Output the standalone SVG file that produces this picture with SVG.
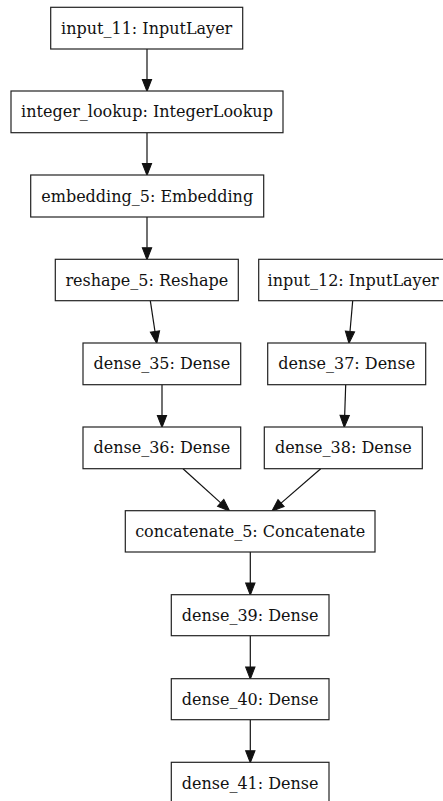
<svg xmlns="http://www.w3.org/2000/svg" width="443" height="801" viewBox="0 0 443 801">
<style>
.box{fill:#fff;stroke:#222;stroke-width:1.2}
.lbl{font-family:"DejaVu Serif",serif;font-size:16px;fill:#111;text-anchor:middle}
.edge{fill:none;stroke:#111;stroke-width:1.2}
</style>
<defs>
<marker id="arr" markerUnits="userSpaceOnUse" markerWidth="12" markerHeight="10" viewBox="0 0 11.6 9" refX="0" refY="4.5" orient="auto" overflow="visible">
<path d="M0,0 L11.6,4.5 L0,9 z" fill="#111" stroke="#111" stroke-width="1"/>
</marker>
</defs>
<rect width="443" height="801" fill="#fff"/>
<g id="connectors">
<path class="edge" marker-end="url(#arr)" d="M147,49 L147,79.4"/>
<path class="edge" marker-end="url(#arr)" d="M147,132.7 L147,163.4"/>
<path class="edge" marker-end="url(#arr)" d="M147,217 L147,247.7"/>
<path class="edge" marker-end="url(#arr)" d="M150.3,300.7 L154.97,331.53"/>
<path class="edge" marker-end="url(#arr)" d="M352.7,300.7 L350.01,331.44"/>
<path class="edge" marker-end="url(#arr)" d="M162,384.7 L162,415.4"/>
<path class="edge" marker-end="url(#arr)" d="M345.7,384.7 L344.68,415.41"/>
<path class="edge" marker-end="url(#arr)" d="M183,468.7 L220.71,502.91"/>
<path class="edge" marker-end="url(#arr)" d="M320.7,468.7 L281.06,503.1"/>
<path class="edge" marker-end="url(#arr)" d="M250.3,552 L250.3,583.1"/>
<path class="edge" marker-end="url(#arr)" d="M250.3,635.7 L250.3,667.1"/>
<path class="edge" marker-end="url(#arr)" d="M250.3,719.7 L250.3,750.7"/>
</g>
<g id="input_11"><rect class="box" x="50.7" y="7.3" width="192" height="41.7"/><text class="lbl" x="146.7" y="33.7">input_11: InputLayer</text></g>
<g id="integer_lookup"><rect class="box" x="11" y="91" width="272" height="41.7"/><text class="lbl" x="147" y="117.4">integer_lookup: IntegerLookup</text></g>
<g id="embedding_5"><rect class="box" x="30.7" y="175" width="233" height="42"/><text class="lbl" x="147.2" y="201.5">embedding_5: Embedding</text></g>
<g id="reshape_5"><rect class="box" x="55.3" y="259.3" width="183" height="41.4"/><text class="lbl" x="146.8" y="285.5">reshape_5: Reshape</text></g>
<g id="input_12"><rect class="box" x="258.7" y="259.3" width="189" height="41.4"/><text class="lbl" x="353.2" y="285.5">input_12: InputLayer</text></g>
<g id="dense_35"><rect class="box" x="83" y="343" width="157.7" height="41.7"/><text class="lbl" x="161.85" y="369.4">dense_35: Dense</text></g>
<g id="dense_37"><rect class="box" x="267.7" y="343" width="158" height="41.7"/><text class="lbl" x="346.7" y="369.4">dense_37: Dense</text></g>
<g id="dense_36"><rect class="box" x="83" y="427" width="157.7" height="41.7"/><text class="lbl" x="161.85" y="453.4">dense_36: Dense</text></g>
<g id="dense_38"><rect class="box" x="264.3" y="427" width="158" height="41.7"/><text class="lbl" x="343.3" y="453.4">dense_38: Dense</text></g>
<g id="concatenate_5"><rect class="box" x="125.3" y="510.7" width="249.7" height="41.3"/><text class="lbl" x="250.15" y="536.9">concatenate_5: Concatenate</text></g>
<g id="dense_39"><rect class="box" x="171.3" y="594.7" width="157.7" height="41"/><text class="lbl" x="250.15" y="620.7">dense_39: Dense</text></g>
<g id="dense_40"><rect class="box" x="171.3" y="678.7" width="157.7" height="41"/><text class="lbl" x="250.15" y="704.7">dense_40: Dense</text></g>
<g id="dense_41"><rect class="box" x="171.3" y="762.3" width="157.7" height="41.7"/><text class="lbl" x="250.15" y="788.7">dense_41: Dense</text></g>
</svg>
